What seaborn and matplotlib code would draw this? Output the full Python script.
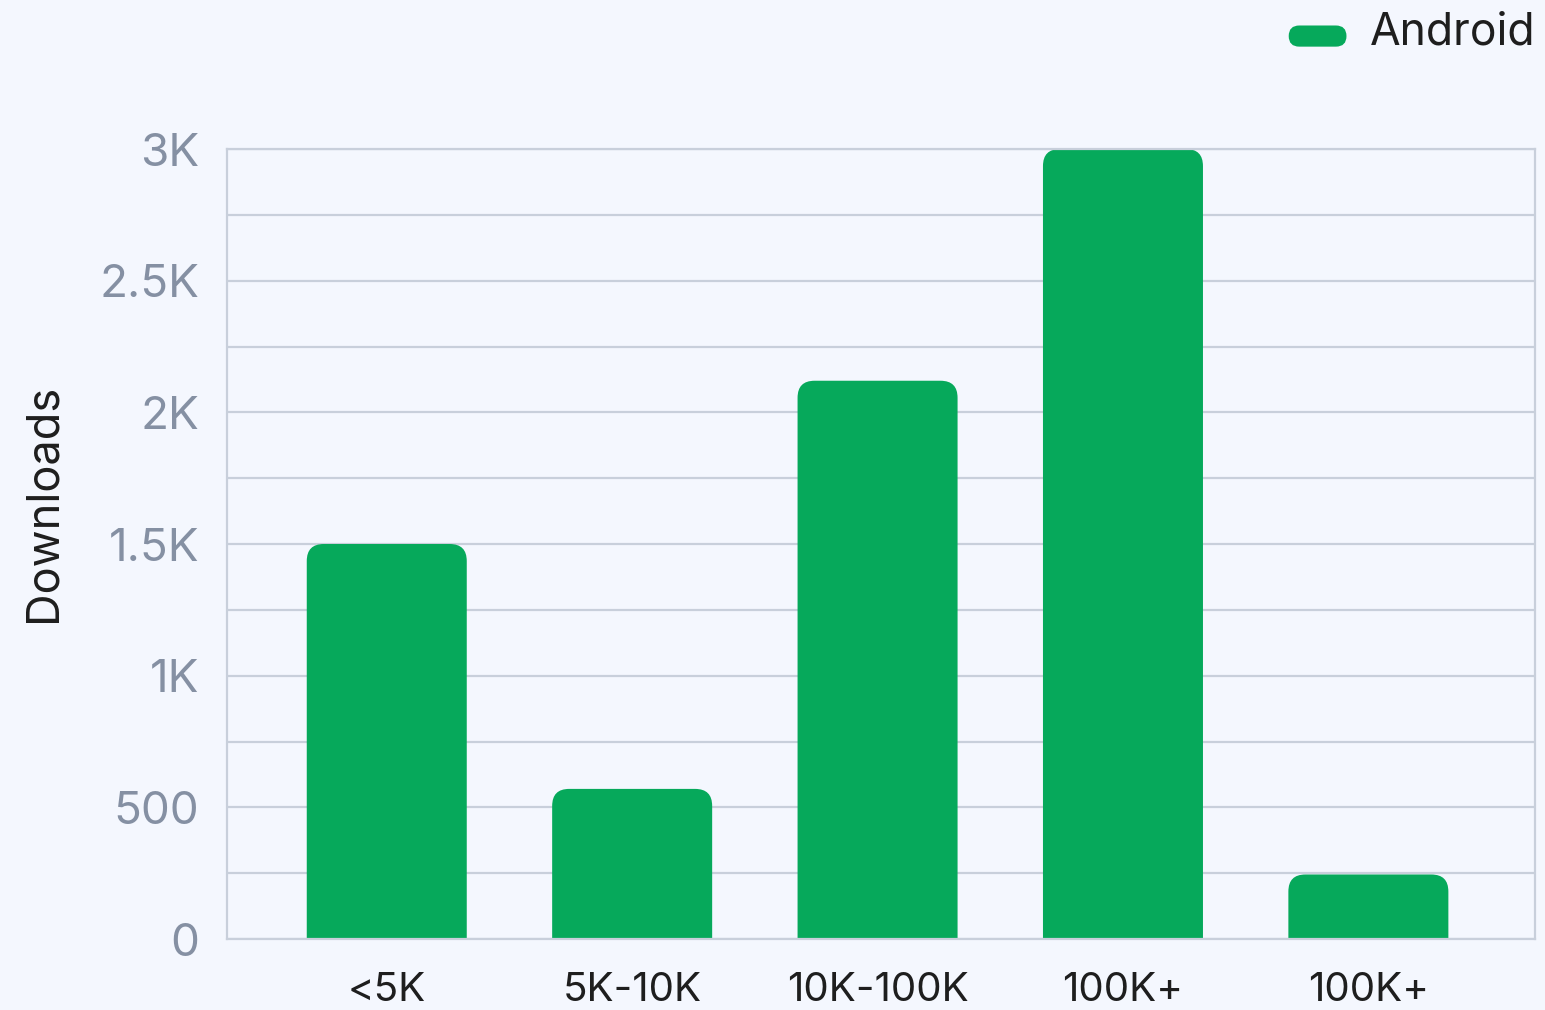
import matplotlib
matplotlib.use("Agg")
import matplotlib.pyplot as plt
import seaborn as sns
import pandas as pd
from matplotlib.patches import FancyBboxPatch
from matplotlib.legend_handler import HandlerPatch

categories = ["<5K", "5K-10K", "10K-100K", "100K+", "100K+"]
downloads = [1500, 570, 2120, 3000, 245]
series_name = "Android"
y_ticks = [0, 500, 1000, 1500, 2000, 2500, 3000]
y_tick_labels = ["0", "500", "1K", "1.5K", "2K", "2.5K", "3K"]
y_minor_ticks = [250, 750, 1250, 1750, 2250, 2750]
y_label = "Downloads"

GREEN = "#06A95B"
BG = "#F4F7FE"
GRID = "#C8CFDB"
TICK_GRAY = "#8590A3"
DARK = "#1E1E1E"

sns.set_theme(style="white")
plt.rcParams["font.family"] = ["Inter", "DejaVu Sans"]

fig = plt.figure(figsize=(15.45, 10.10), dpi=100, facecolor=BG)
ax = fig.add_axes([227/1545, 1-939/1010, (1535-227)/1545, (939-149)/1010])
ax.set_facecolor(BG)

df = pd.DataFrame({"slot": [str(i) for i in range(len(categories))],
                   "value": downloads})
sns.barplot(data=df, x="slot", y="value", color=GREEN, width=0.652,
            saturation=1, ax=ax, zorder=2, label=series_name)

ax.set_xlim(-0.651, 4.679)
ax.set_ylim(0, 3000)

# rounded top corners
fig.canvas.draw()
px_x = ax.transData.transform((1, 0))[0] - ax.transData.transform((0, 0))[0]
px_y = ax.transData.transform((0, 1))[1] - ax.transData.transform((0, 0))[1]
r_px = 17
rx = r_px / px_x
ry = r_px / px_y
bars = list(ax.patches)
for p in bars:
    x, y, w, h = p.get_x(), p.get_y(), p.get_width(), p.get_height()
    p.set_visible(False)
    fb = FancyBboxPatch((x, y - ry), w, h + ry,
                        boxstyle=f"round,pad=0,rounding_size={rx}",
                        mutation_aspect=ry / rx,
                        facecolor=GREEN, edgecolor="none", zorder=2)
    ax.add_patch(fb)
    fb.set_clip_path(ax.patch)

ax.set_yticks(y_ticks)
ax.set_yticklabels(y_tick_labels)
ax.set_yticks(y_minor_ticks, minor=True)
ax.set_xticks(range(len(categories)))
ax.set_xticklabels(categories)
ax.grid(axis="y", which="both", color=GRID, linewidth=1.6, zorder=0)
ax.grid(axis="x", visible=False)
ax.tick_params(axis="y", which="both", length=0, pad=20, labelsize=33, labelcolor=TICK_GRAY)
ax.tick_params(axis="x", length=0, pad=24, labelsize=29, labelcolor=DARK)

for s in ["left", "right", "bottom", "top"]:
    ax.spines[s].set_visible(True)
    ax.spines[s].set_color(GRID)
    ax.spines[s].set_linewidth(1.6)

ax.set_xlabel("")
ax.set_ylabel(y_label, fontsize=32.5, color=DARK)
ax.yaxis.set_label_coords((65 - 227) / 1308, (939 - 503) / 790)


class RoundHandler(HandlerPatch):
    def create_artists(self, legend, orig_handle, xdescent, ydescent, width,
                       height, fontsize, trans):
        hh = height * 0.68
        y0 = -ydescent + (height - hh) / 2 - 0.22 * height
        p = FancyBboxPatch((-xdescent, y0), width, hh,
                           boxstyle=f"round,pad=0,rounding_size={hh/2}",
                           facecolor=GREEN, edgecolor="none", transform=trans)
        return [p]


handles, labels = ax.get_legend_handles_labels()
leg = fig.legend(handles[:1], labels[:1], loc="upper right",
                 bbox_to_anchor=(1553/1545, 1 + 6/1010),
                 frameon=False, fontsize=32, labelcolor=DARK,
                 handler_map={type(handles[0]): RoundHandler()},
                 handlelength=1.3, handleheight=0.7, handletextpad=0.52,
                 borderaxespad=0)
if ax.get_legend() is not None:
    ax.get_legend().remove()

fig.savefig("out.png", dpi=100, facecolor=BG)
